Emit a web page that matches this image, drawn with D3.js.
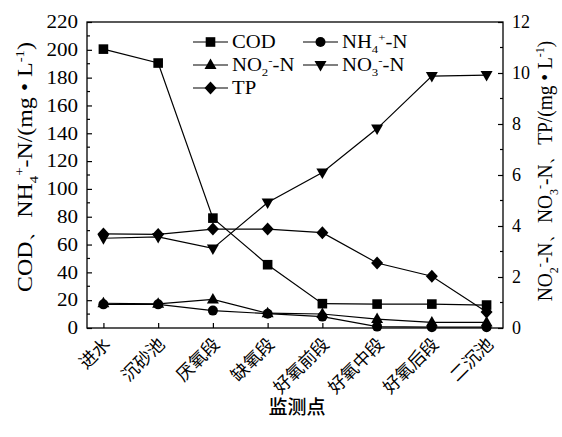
<!DOCTYPE html>
<html><head><meta charset="utf-8">
<script src="https://cdn.jsdelivr.net/npm/d3@7"></script>
<style>body{margin:0;background:#fff}svg{display:block}</style>
</head><body>
<svg id="c" width="562" height="437"></svg>
<script>
const categories = ["进水","沉砂池","厌氧段","缺氧段","好氧前段","好氧中段","好氧后段","二沉池"];
const cod = [200.5, 190.5, 79, 45.5, 17.5, 17.2, 17.2, 16.5];
const nh4 = [17, 17, 12.5, 10.3, 8.2, 1.0, 0.6, 0.6];
const no2 = [0.97, 0.95, 1.12, 0.58, 0.55, 0.35, 0.22, 0.22];
const no3 = [3.52, 3.57, 3.12, 4.92, 6.1, 7.82, 9.88, 9.92];
const tp  = [3.69, 3.67, 3.88, 3.88, 3.74, 2.55, 2.03, 0.63];
const leftTicks = [0,20,40,60,80,100,120,140,160,180,200,220];
const rightTicks = [0,2,4,6,8,10,12];

const svg = d3.select("#c");
const L=87, R=503, T=22, B=328;
const serif = "Liberation Serif, Times New Roman, DejaVu Serif, serif";
const cjk = "Noto Sans CJK SC, sans-serif";

const x = d3.scalePoint().domain(categories).range([L,R]).padding(0.3);
const yL = d3.scaleLinear().domain([0,220]).range([B,T]);
const yR = d3.scaleLinear().domain([0,12]).range([B,T]);

// frame
svg.append("rect").attr("x",L).attr("y",T).attr("width",R-L).attr("height",B-T)
  .attr("fill","none").attr("stroke","#000").attr("stroke-width",1.3);

// left axis
const gl = svg.append("g").attr("transform",`translate(${L},0)`);
gl.call(d3.axisLeft(yL).tickValues(leftTicks).tickSize(-5).tickPadding(9).tickFormat(d3.format("d")));
gl.select(".domain").remove();
gl.selectAll(".tick line").attr("stroke-width",1.2);
gl.selectAll(".tick text").style("font-family",serif).style("font-size","18px").attr("fill","#000")
  .attr("transform","scale(1.17,1)").attr("x",-9/1.17);
svg.append("g").selectAll("line").data(d3.range(10,220,20)).join("line")
  .attr("x1",L).attr("x2",L+3).attr("y1",d=>yL(d)).attr("y2",d=>yL(d)).attr("stroke","#000").attr("stroke-width",1.2);

// right axis
const gr = svg.append("g").attr("transform",`translate(${R},0)`);
gr.call(d3.axisRight(yR).tickValues(rightTicks).tickSize(-5).tickPadding(9).tickFormat(d3.format("d")));
gr.select(".domain").remove();
gr.selectAll(".tick line").attr("stroke-width",1.2);
gr.selectAll(".tick text").style("font-family",serif).style("font-size","18px").attr("fill","#000");
svg.append("g").selectAll("line").data(d3.range(1,12,2)).join("line")
  .attr("x1",R).attr("x2",R-3).attr("y1",d=>yR(d)).attr("y2",d=>yR(d)).attr("stroke","#000").attr("stroke-width",1.2);

// bottom axis
const gb = svg.append("g").attr("transform",`translate(0,${B})`);
gb.call(d3.axisBottom(x).tickSize(-5).tickPadding(0));
gb.select(".domain").remove();
gb.selectAll(".tick line").attr("stroke-width",1.2);
gb.selectAll(".tick text").style("font-family",cjk).style("font-size","17.5px").attr("fill","#000")
  .attr("text-anchor","end").attr("x",0).attr("y",0).attr("dy","0.35em")
  .attr("transform","translate(3,13) rotate(-45)");

// series
const series = [
  {name:"COD", vals:cod, y:yL, sym:"square"},
  {name:"NH4", vals:nh4, y:yL, sym:"circle"},
  {name:"NO2", vals:no2, y:yR, sym:"tri"},
  {name:"NO3", vals:no3, y:yR, sym:"tridown"},
  {name:"TP",  vals:tp,  y:yR, sym:"diamond"}
];
function marker(g, sym, cx, cy){
  if(sym==="square") g.append("rect").attr("x",cx-4.8).attr("y",cy-4.8).attr("width",9.6).attr("height",9.6);
  else if(sym==="circle") g.append("circle").attr("cx",cx).attr("cy",cy).attr("r",5);
  else if(sym==="tri") g.append("path").attr("d",`M${cx},${cy-6.5}L${cx+6},${cy+4}L${cx-6},${cy+4}Z`);
  else if(sym==="tridown") g.append("path").attr("d",`M${cx},${cy+6.5}L${cx+6},${cy-4}L${cx-6},${cy-4}Z`);
  else if(sym==="diamond") g.append("path").attr("d",`M${cx},${cy-6.5}L${cx+6},${cy}L${cx},${cy+6.5}L${cx-6},${cy}Z`);
}
series.forEach(s=>{
  const ln = d3.line().x((d,i)=>x(categories[i])).y(d=>s.y(d));
  svg.append("path").attr("d",ln(s.vals)).attr("fill","none").attr("stroke","#000").attr("stroke-width",1.2);
  const g = svg.append("g").attr("fill","#000");
  s.vals.forEach((v,i)=>marker(g,s.sym,x(categories[i]),s.y(v)));
});

// rich text helper (sub/superscripts)
function richText(t, parts, fs){
  let state="base";
  parts.forEach(p=>{
    const ts = t.append("tspan").text(p[0]);
    const kind = p[1]||"base";
    if(kind==="sub"){ ts.style("font-size",(fs*0.62)+"px").attr("dy",fs*0.28); state="sub"; }
    else if(kind==="supstack"){ ts.style("font-size",(fs*0.62)+"px").attr("dy",-fs*0.68); state="sup"; }
    else if(kind==="sup"){ ts.style("font-size",(fs*0.62)+"px").attr("dy",-fs*0.4); state="sup2"; }
    else {
      if(state==="sup") ts.attr("dy",fs*0.4);
      else if(state==="sub") ts.attr("dy",-fs*0.28);
      else if(state==="sup2") ts.attr("dy",fs*0.4);
      state="base";
    }
  });
}

// legend
const leg = [
  {sym:"square", x:193, y:42, label:[["COD"]]},
  {sym:"circle", x:303, y:42, label:[["NH"],["4","sub"],["+","supstack"],["-N"]]},
  {sym:"tri", x:193, y:65, label:[["NO"],["2","sub"],["-","supstack"],["-N"]]},
  {sym:"tridown", x:303, y:65, label:[["NO"],["3","sub"],["-","supstack"],["-N"]]},
  {sym:"diamond", x:193, y:88, label:[["TP"]]}
];
leg.forEach(e=>{
  const g = svg.append("g");
  g.append("line").attr("x1",e.x).attr("x2",e.x+35).attr("y1",e.y).attr("y2",e.y).attr("stroke","#000").attr("stroke-width",1.2);
  marker(g.append("g").attr("fill","#000"), e.sym, e.x+17.5, e.y);
  const t = g.append("text").style("font-family",serif).style("font-size","18px").attr("y",0).attr("dy","0.35em")
    .attr("transform",`translate(${e.x+39},${e.y}) scale(1.15,1)`);
  richText(t, e.label, 18);
});

// y labels, stretched along their length to the reference span
function yLabel(parts, bx, cy, target){
  const t = svg.append("text").style("font-family",serif).style("font-size","20px")
    .attr("text-anchor","middle");
  richText(t, parts, 20);
  const w = t.node().getComputedTextLength();
  t.attr("transform",`translate(${bx},${cy}) rotate(-90) scale(${target/w},1)`);
}
yLabel([["COD、NH"],["4","sub"],["+","supstack"],["-N/(mg • L"],["-1","sup"],[")"]], 32, 167, 250);
yLabel([["NO"],["2","sub"],["-","supstack"],["-N、NO"],["3","sub"],["-","supstack"],["-N、TP/(mg • L"],["-1","sup"],[")"]], 552, 171, 260);

// x title
svg.append("text").style("font-family",cjk).style("font-size","19px").style("font-weight","500")
  .attr("text-anchor","middle").attr("x",297).attr("y",414).text("监测点");
</script>
</body></html>
